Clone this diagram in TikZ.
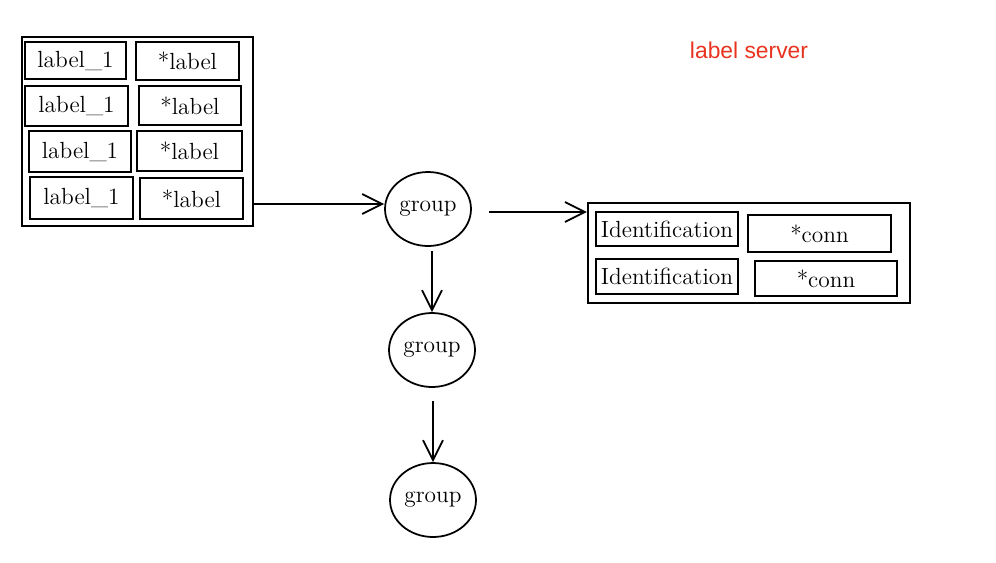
\documentclass[tikz,border=0pt]{standalone}
\usepackage{fontspec}
\usepackage{xcolor}
\usepackage{tikz}
\usetikzlibrary{shapes.geometric,arrows.meta}
\newfontfamily\serverfont{Liberation Sans}
\definecolor{serverred}{rgb}{0.91, 0.2, 0.12}
\tikzset{
  cell/.style={draw, line width=1pt, inner sep=0pt, font=\fontsize{13.3}{16}\selectfont},
  frame/.style={draw, line width=1.3pt, inner sep=0pt},
  grp/.style={draw, ellipse, line width=1pt, inner sep=0pt, minimum width=1.72cm, minimum height=1.48cm, font=\fontsize{13.3}{16}\selectfont},
  arr/.style={line width=1pt, -{Straight Barb[length=4mm,width=4mm]}}
}

\begin{document}
\begin{tikzpicture}[x=0.02cm, y=-0.02cm]
\useasboundingbox (0,0) rectangle (996,562);
\node[frame, minimum width=4.62cm, minimum height=3.78cm] (labels) at (137.5,131.5) {};
\node[cell, minimum width=2.02cm, minimum height=0.74cm] (lbl1) at (75.5,60.5) {label\_1};
\node[cell, minimum width=2.06cm, minimum height=0.76cm] (star1) at (187.5,61) {*label};
\node[cell, minimum width=2.06cm, minimum height=0.8cm] (lbl2) at (76.5,106) {label\_1};
\node[cell, minimum width=2.04cm, minimum height=0.78cm] (star2) at (190,105.5) {*label};
\node[cell, minimum width=2.04cm, minimum height=0.82cm] (lbl3) at (80,151.5) {label\_1};
\node[cell, minimum width=2.1cm, minimum height=0.8cm] (star3) at (189.5,151) {*label};
\node[cell, minimum width=2.06cm, minimum height=0.84cm] (lbl4) at (81.5,198) {label\_1};
\node[cell, minimum width=2.06cm, minimum height=0.82cm] (star4) at (191.5,198.5) {*label};

\node[grp] (grp1) at (428,209) {group};
\node[grp] (grp2) at (432,350) {group};
\node[grp] (grp3) at (433,500) {group};

\node[frame, minimum width=6.44cm, minimum height=2cm] (conns) at (749,253) {};
\node[cell, minimum width=2.84cm, minimum height=0.68cm] (ident1) at (667,229) {Identification};
\node[cell, minimum width=2.86cm, minimum height=0.74cm] (conn1) at (819.5,233.5) {*conn};
\node[cell, minimum width=2.84cm, minimum height=0.7cm] (ident2) at (667,276.5) {Identification};
\node[cell, minimum width=2.84cm, minimum height=0.7cm] (conn2) at (826,278.5) {*conn};

\node[text=serverred, font=\serverfont\fontsize{13}{15}\selectfont] (server) at (749,50) {label server};

\draw[arr] ([yshift=0.1cm]labels.east |- grp1.west) -- ([yshift=0.1cm]grp1.west);
\draw[arr] ([xshift=0.34cm,yshift=-0.06cm]grp1.east) -- ([yshift=-0.06cm]conns.west |- grp1.east);
\draw[arr] ([yshift=-0.08cm]grp2.north |- grp1.south) -- (grp2.north);
\draw[arr] ([yshift=-0.26cm]grp3.north |- grp2.south) -- (grp3.north);
\end{tikzpicture}
\end{document}
